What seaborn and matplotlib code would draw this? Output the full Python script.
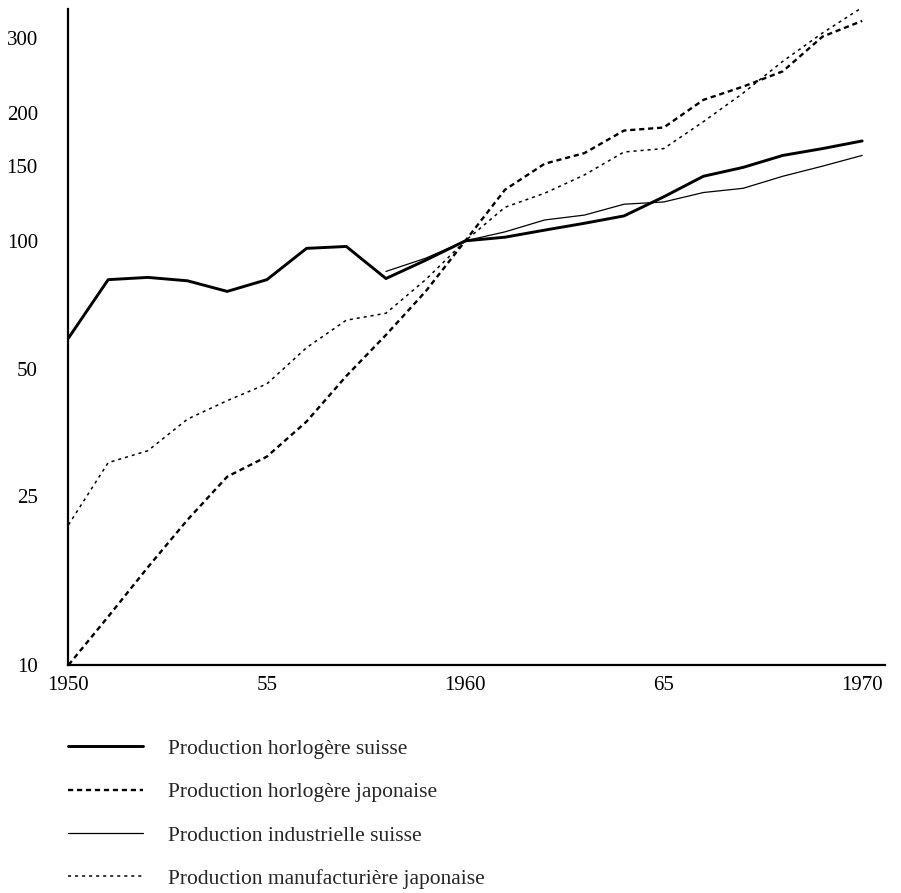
import numpy as np
import pandas as pd
import matplotlib
matplotlib.use("Agg")
import matplotlib.pyplot as plt
from matplotlib.ticker import FixedLocator, FixedFormatter, NullFormatter
import seaborn as sns

# Indices, base 1960 = 100
years = list(range(1950, 1971))
swiss_watch = [59, 81, 82, 80.5, 76, 81, 96, 97, 81.5, 90, 100,
               102, 106, 110, 114.5, 127, 142, 149, 159, 165, 172]
japan_watch = [10, 13, 17, 22, 27.8, 31, 37.5, 48, 60, 76, 100,
               132, 152, 161, 182, 185, 215, 231, 251, 303, 330]
swiss_ind_years = list(range(1958, 1971))
swiss_industry = [84.7, 91, 100, 105, 112, 115, 122, 123.5, 130, 133, 142, 150, 159]
japan_manuf = [21.4, 30, 32, 38, 42, 46, 56, 65, 67.5, 81, 100,
               120, 129.5, 143, 162, 165, 191, 223, 265, 309, 355]

labels = ["Production horlogère suisse",
          "Production horlogère japonaise",
          "Production industrielle suisse",
          "Production manufacturière japonaise"]
y_ticks = [10, 25, 50, 100, 150, 200, 300]
x_major = [1950, 1955, 1960, 1965, 1970]
x_major_labels = ["1950", "55", "1960", "65", "1970"]

sns.set_style("white")
plt.rcParams["font.family"] = ["Liberation Serif", "DejaVu Serif"]

fig = plt.figure(figsize=(9.01, 8.93), dpi=100)
ax = fig.add_axes([0.076, 0.2553, 0.906, 0.7346])

sns.lineplot(x=years, y=swiss_watch, ax=ax, color="black", linewidth=2.1,
             label=labels[0], clip_on=False)
sns.lineplot(x=years, y=japan_watch, ax=ax, color="black", linewidth=1.7,
             linestyle=(0, (2.2, 1.6)), label=labels[1], clip_on=False)
sns.lineplot(x=swiss_ind_years, y=swiss_industry, ax=ax, color="black",
             linewidth=0.9, label=labels[2], clip_on=False)
sns.lineplot(x=years, y=japan_manuf, ax=ax, color="black", linewidth=1.1,
             linestyle=(0, (2.0, 2.6)), label=labels[3], clip_on=False)

ax.set_yscale("log")
ax.set_xlim(1950, 1970.57)
ax.set_ylim(10, 352)

ax.yaxis.set_major_locator(FixedLocator(y_ticks))
ax.yaxis.set_major_formatter(FixedFormatter([str(v) for v in y_ticks]))
ax.yaxis.set_minor_locator(FixedLocator([]))
ax.yaxis.set_minor_formatter(NullFormatter())

ax.xaxis.set_major_locator(FixedLocator(x_major))
ax.xaxis.set_major_formatter(FixedFormatter(x_major_labels))
ax.xaxis.set_minor_locator(FixedLocator(years))

ax.tick_params(axis="y", which="major", direction="out", length=6, width=1.4,
               pad=16, labelsize=15, color="black", labelcolor="black")
ax.tick_params(axis="x", which="both", direction="in", length=5, width=1.4,
               pad=8, labelsize=15, color="black", labelcolor="black")
for t in ax.xaxis.get_major_ticks():
    if t.get_loc() == 1960:
        t.tick1line.set_markersize(10)

for side in ("top", "right"):
    ax.spines[side].set_visible(False)
for side in ("left", "bottom"):
    ax.spines[side].set_linewidth(1.6)
    ax.spines[side].set_color("black")
ax.set_xlabel("")
ax.set_ylabel("")

handles, labs = ax.get_legend_handles_labels()
ax.get_legend().remove()
fig.legend(handles, labs, loc="upper left", bbox_to_anchor=(0.0755, 0.1725),
           frameon=False, fontsize=15.5, handlelength=3.5, handletextpad=1.15,
           labelspacing=1.08, borderpad=0, borderaxespad=0)

fig.savefig("out.png", dpi=100, facecolor="white")
